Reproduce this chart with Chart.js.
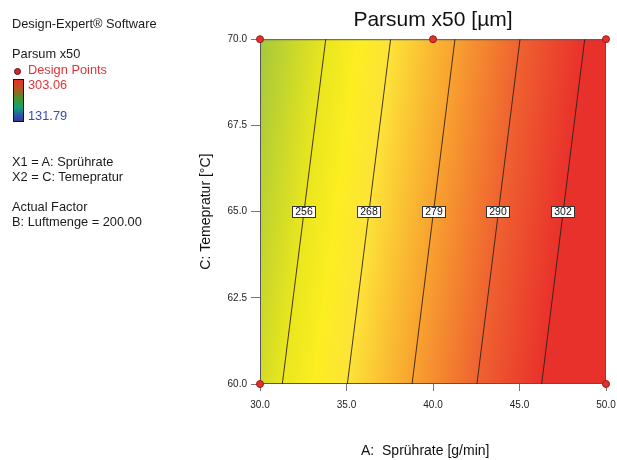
<!DOCTYPE html>
<html>
<head>
<meta charset="utf-8">
<title>Parsum x50</title>
<script src="https://cdn.jsdelivr.net/npm/chart.js@4.4.1/dist/chart.umd.min.js"></script>
<style>
  body { margin: 0; background: #fff; }
  #wrap { position: relative; width: 617px; height: 460px; font-family: 'Liberation Sans', Arial, sans-serif; color: #1a1a1a; }
  #wrap canvas { position: absolute; left: 0; top: 0; }
  .note { position: absolute; left: 12px; font-size: 12.8px; line-height: 15px; white-space: nowrap; }
  .red { color: #e2343c; }
  .blue { color: #3b4aa8; }
  #dot { position: absolute; left: 14px; top: 68px; width: 5px; height: 5px; border-radius: 50%; background: #d8262a; border: 1px solid #4a0c0c; }
  #bar { position: absolute; left: 13px; top: 79px; width: 9px; height: 41px; border: 1px solid #111;
         background: linear-gradient(to bottom, #e8302a 0%, #b8561c 22%, #3a9a34 48%, #12a07a 68%, #2a56a8 86%, #3a3a9c 100%); }
</style>
</head>
<body>
<div id="wrap">
  <canvas id="contourChart" width="617" height="460"></canvas>
  <div class="note" style="top:16px">Design-Expert® Software</div>
  <div class="note" style="top:46px">Parsum x50</div>
  <div id="dot"></div>
  <div class="note red" style="top:62px; left:28px">Design Points</div>
  <div id="bar"></div>
  <div class="note red" style="top:77px; left:28px">303.06</div>
  <div class="note blue" style="top:108px; left:28px">131.79</div>
  <div class="note" style="top:154px">X1 = A: Sprührate</div>
  <div class="note" style="top:169px">X2 = C: Temepratur</div>
  <div class="note" style="top:199px">Actual Factor</div>
  <div class="note" style="top:214px">B: Luftmenge = 200.00</div>
</div>
<script>
// contour levels and where each line meets the bottom (C = 60) and top (C = 70) edge
const levels = [256, 268, 279, 290, 302];
const contourLow = [31.29, 35.05, 38.79, 42.54, 46.28];
const contourHigh = [33.80, 37.55, 41.27, 45.03, 48.77];

// design points (A, C)
const designA = [30, 40, 50, 30, 50];
const designC = [70, 70, 70, 60, 60];

const xTicks = [30, 35, 40, 45, 50];
const yTicks = [60, 62.5, 65, 67.5, 70];
const labelRow = 65;

// response values used for the colour fill
const fillValues = [244, 252, 256, 262, 268, 279, 290, 302];
const fillColors = ['#a6c83c', '#d3dc26', '#eae61e', '#fcee21', '#fde338', '#f8a22f', '#ef6230', '#e9312b'];

const FONT = "'Liberation Sans', Arial, sans-serif";

// A value on the label row for a given response (linear between contour lines)
function aAtValue(v) {
  const mids = levels.map((l, i) => (contourLow[i] + contourHigh[i]) / 2);
  let i = 0;
  while (i < levels.length - 2 && v > levels[i + 1]) i++;
  const t = (v - levels[i]) / (levels[i + 1] - levels[i]);
  return mids[i] + t * (mids[i + 1] - mids[i]);
}

const fillPlugin = {
  id: 'responseFill',
  beforeDatasetsDraw(chart) {
    const { ctx, chartArea: a, scales: { x, y } } = chart;
    const dx = x.getPixelForValue(contourHigh[0]) - x.getPixelForValue(contourLow[0]);
    const dy = y.getPixelForValue(70) - y.getPixelForValue(60);
    let nx = -dy, ny = dx;
    const len = Math.hypot(nx, ny);
    nx /= len; ny /= len;
    const yRow = y.getPixelForValue(labelRow);
    const p0 = x.getPixelForValue(aAtValue(fillValues[0]));
    const p1 = x.getPixelForValue(aAtValue(fillValues[fillValues.length - 1]));
    const span = (p1 - p0) * nx;
    const g = ctx.createLinearGradient(p0, yRow, p0 + nx * span, yRow + ny * span);
    fillValues.forEach((v, i) => {
      const off = (x.getPixelForValue(aAtValue(v)) - p0) / (p1 - p0);
      g.addColorStop(Math.min(1, Math.max(0, off)), fillColors[i]);
    });
    ctx.save();
    ctx.fillStyle = g;
    ctx.fillRect(a.left, a.top, a.width, a.height);
    ctx.strokeStyle = '#555';
    ctx.lineWidth = 1;
    ctx.strokeRect(a.left + 0.5, a.top + 0.5, a.width - 1, a.height - 1);
    ctx.restore();
  }
};

const contourLabels = {
  id: 'contourLabels',
  afterDatasetsDraw(chart) {
    const { ctx, scales: { x, y } } = chart;
    ctx.save();
    ctx.font = '10.5px ' + FONT;
    ctx.textAlign = 'center';
    ctx.textBaseline = 'middle';
    levels.forEach((lv, i) => {
      const cx = Math.round(x.getPixelForValue((contourLow[i] + contourHigh[i]) / 2));
      const cy = Math.round(y.getPixelForValue(labelRow));
      ctx.fillStyle = '#fff';
      ctx.fillRect(cx - 12, cy - 6, 24, 11);
      ctx.strokeStyle = '#333';
      ctx.lineWidth = 1;
      ctx.strokeRect(cx - 11.5, cy - 5.5, 23, 11);
      ctx.fillStyle = '#111';
      ctx.fillText(String(lv), cx, cy + 0.5);
    });
    ctx.restore();
  }
};

const datasets = levels.map((lv, i) => ({
  type: 'line',
  label: String(lv),
  data: [{ x: contourLow[i], y: 60 }, { x: contourHigh[i], y: 70 }],
  borderColor: 'rgba(45,35,25,0.9)',
  borderWidth: 1,
  pointRadius: 0
}));

datasets.push({
  type: 'scatter',
  label: 'Design Points',
  data: designA.map((a, i) => ({ x: a, y: designC[i] })),
  backgroundColor: '#e3302c',
  borderColor: '#9a1c1c',
  borderWidth: 1,
  pointRadius: 3.5,
  clip: false
});

new Chart(document.getElementById('contourChart').getContext('2d'), {
  type: 'scatter',
  data: { datasets: datasets },
  options: {
    responsive: false,
    animation: false,
    layout: { padding: { left: 195, right: 11, top: 0, bottom: 0 } },
    plugins: {
      legend: { display: false },
      tooltip: { enabled: false },
      title: {
        display: true,
        text: 'Parsum x50 [µm]',
        fullSize: false,
        color: '#111',
        font: { family: FONT, size: 21, weight: 'normal' },
        padding: { top: 8, bottom: 6 }
      }
    },
    scales: {
      x: {
        type: 'linear',
        min: 30,
        max: 50,
        afterBuildTicks: s => { s.ticks = xTicks.map(v => ({ value: v })); },
        afterFit: s => { s.height = 76; s.paddingLeft = 0; s.paddingRight = 0; },
        grid: { drawOnChartArea: false, drawTicks: true, tickLength: 7, color: '#777' },
        border: { display: false },
        ticks: { color: '#222', font: { family: FONT, size: 10 }, padding: 8, maxRotation: 0,
                 callback: v => Number(v).toFixed(1) },
        title: { display: true, text: 'A:  Sprührate [g/min]    ', color: '#111',
                 font: { family: FONT, size: 14 }, padding: { top: 0, bottom: 0 } }
      },
      y: {
        type: 'linear',
        min: 60,
        max: 70,
        afterBuildTicks: s => { s.ticks = yTicks.map(v => ({ value: v })); },
        afterFit: s => { s.width = 65; s.paddingTop = 0; s.paddingBottom = 0; },
        grid: { drawOnChartArea: false, drawTicks: true, tickLength: 9, color: '#777' },
        border: { display: false },
        ticks: { color: '#222', font: { family: FONT, size: 10 }, padding: 4,
                 callback: v => Number(v).toFixed(1) },
        title: { display: true, text: 'C: Temepratur [°C]', color: '#111',
                 font: { family: FONT, size: 14 }, padding: { top: 3, bottom: 0 } }
      }
    }
  },
  plugins: [fillPlugin, contourLabels]
});
</script>
</body>
</html>
